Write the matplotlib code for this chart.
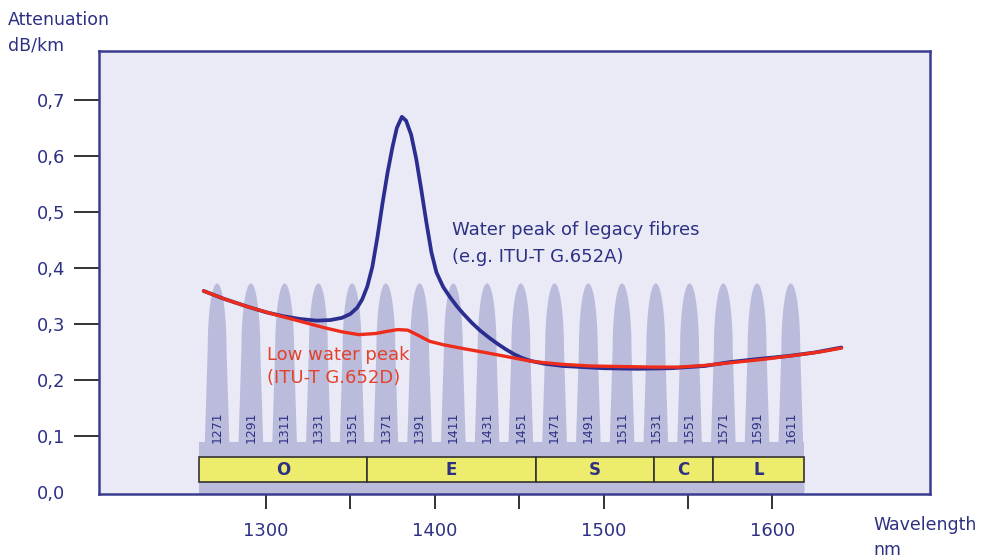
import numpy as np
import matplotlib
matplotlib.use("Agg")
import matplotlib.pyplot as plt
from matplotlib.patches import Polygon, Rectangle

# ---------------- data ----------------
channels = [1271, 1291, 1311, 1331, 1351, 1371, 1391, 1411, 1431,
            1451, 1471, 1491, 1511, 1531, 1551, 1571, 1591, 1611]
channel_peak = 0.373

bands = ["O", "E", "S", "C", "L"]
band_start = [1260, 1360, 1460, 1530, 1565]
band_end = [1360, 1460, 1530, 1565, 1619]

legacy_nm = [1263, 1275, 1290, 1300, 1310, 1320, 1330, 1338, 1345, 1350,
             1354, 1357, 1360, 1363, 1366, 1369, 1372, 1375, 1377.5, 1380.5,
             1383, 1386, 1389, 1392, 1395, 1398, 1401, 1405, 1409, 1413,
             1417, 1422, 1427, 1432, 1437, 1442, 1447, 1452, 1457, 1465,
             1476, 1500, 1520, 1540, 1560, 1575, 1590, 1610, 1625, 1641]
legacy_att = [0.359, 0.345, 0.330, 0.321, 0.314, 0.309, 0.306, 0.307, 0.311, 0.318,
              0.329, 0.344, 0.367, 0.402, 0.455, 0.515, 0.570, 0.617, 0.650, 0.670,
              0.663, 0.638, 0.595, 0.540, 0.482, 0.428, 0.392, 0.366, 0.348, 0.332,
              0.318, 0.302, 0.288, 0.276, 0.265, 0.255, 0.246, 0.239, 0.234, 0.229,
              0.225, 0.221, 0.220, 0.221, 0.225, 0.232, 0.237, 0.243, 0.249, 0.258]

lowwp_nm = [1263, 1275, 1290, 1305, 1320, 1335, 1345, 1355, 1365, 1372,
            1378, 1384, 1390, 1397, 1405, 1417, 1430, 1444, 1458, 1475,
            1492, 1510, 1530, 1545, 1560, 1576, 1595, 1616, 1630, 1641]
lowwp_att = [0.359, 0.345, 0.330, 0.317, 0.305, 0.293, 0.286, 0.281, 0.283, 0.287,
             0.290, 0.289, 0.280, 0.269, 0.263, 0.256, 0.249, 0.241, 0.233, 0.228,
             0.225, 0.224, 0.223, 0.223, 0.226, 0.231, 0.237, 0.245, 0.251, 0.257]

ytick_values = [0.0, 0.1, 0.2, 0.3, 0.4, 0.5, 0.6, 0.7]
ytick_labels = ["0,0", "0,1", "0,2", "0,3", "0,4", "0,5", "0,6", "0,7"]
xtick_values = [1300, 1350, 1400, 1450, 1500, 1550, 1600]
xtick_labels = ["1300", "", "1400", "", "1500", "", "1600"]

# ---------------- style ----------------
NAVY = "#2e3183"
BLUE = "#2b2e8f"
RED = "#ee2c1c"
RED_TXT = "#e4412c"
HUMP = "#bbbcdc"
BG = "#e9eaf5"
YELLOW = "#eeec6c"

fig = plt.figure(figsize=(9.88, 5.58), dpi=100)
ax = fig.add_axes([0.1002, 0.1147, 0.8411, 0.7939])
ax.set_facecolor(BG)
ax.set_xlim(1201, 1693.5)
ax.set_ylim(-0.0036, 0.7875)


def hump_outline(c, h, wb=8.2, wt=5.6, cap=0.12, n=40):
    y0 = h - cap
    ys = np.linspace(0, y0, n)
    ws = wb + (wt - wb) * ys / y0
    t = np.linspace(0, 1, n)
    yc = y0 + cap * t
    wc = wt * np.sqrt(np.clip(1 - t ** 2, 0, 1))
    yy = np.concatenate([ys, yc])
    ww = np.concatenate([ws, wc])
    right = np.column_stack([c + ww, yy])
    left = np.column_stack([c - ww[::-1], yy[::-1]])
    return np.vstack([right, left])


# base strip behind channels
ax.add_patch(Rectangle((band_start[0], ax.get_ylim()[0]), band_end[-1] - band_start[0],
                       0.09 - ax.get_ylim()[0], facecolor=HUMP, edgecolor="none", zorder=1))
for c in channels:
    ax.add_patch(Polygon(hump_outline(c, channel_peak), closed=True,
                         facecolor=HUMP, edgecolor="none", zorder=1))
    ax.text(c, 0.116, str(c), rotation=90, ha="center", va="center",
            fontsize=9, color=NAVY, zorder=3)

for name, s, e in zip(bands, band_start, band_end):
    ax.add_patch(Rectangle((s, 0.018), e - s, 0.0445, facecolor=YELLOW,
                           edgecolor="#333333", lw=1.2, zorder=3))
    ax.text((s + e) / 2, 0.040, name, ha="center", va="center", fontsize=12,
            fontweight="bold", color=NAVY, zorder=4)

ax.plot(legacy_nm, legacy_att, color=BLUE, lw=2.7, solid_capstyle="round",
        solid_joinstyle="round", zorder=5)
ax.plot(lowwp_nm, lowwp_att, color=RED, lw=2.4, solid_capstyle="round",
        solid_joinstyle="round", zorder=6)

ax.text(1410.3, 0.468, "Water peak of legacy fibres", fontsize=13, color=NAVY,
        ha="left", va="center", zorder=7)
ax.text(1410.3, 0.420, "(e.g. ITU-T G.652A)", fontsize=13, color=NAVY,
        ha="left", va="center", zorder=7)
ax.text(1300.6, 0.245, "Low water peak", fontsize=13, color=RED_TXT,
        ha="left", va="center", zorder=7)
ax.text(1300.6, 0.204, "(ITU-T G.652D)", fontsize=13, color=RED_TXT,
        ha="left", va="center", zorder=7)

# axes styling
for sp in ax.spines.values():
    sp.set_color("#3a3c8f")
    sp.set_linewidth(1.8)
ax.set_yticks(ytick_values)
ax.set_yticklabels(ytick_labels)
ax.set_xticks(xtick_values)
ax.set_xticklabels(xtick_labels)
ax.tick_params(axis="y", direction="out", length=18, width=1.3, color="#222222",
               pad=6.5, labelsize=13, labelcolor=NAVY)
ax.tick_params(axis="x", direction="out", length=11, width=1.3, color="#222222",
               pad=9.5, labelsize=13, labelcolor=NAVY)
ax.yaxis.get_major_ticks()[0].tick1line.set_visible(False)

fig.text(8 / 988, 1 - 20 / 558, "Attenuation", fontsize=12.5, color=NAVY,
         ha="left", va="center")
fig.text(8 / 988, 1 - 45 / 558, "dB/km", fontsize=12.5, color=NAVY,
         ha="left", va="center")
fig.text(873 / 988, 1 - 525 / 558, "Wavelength", fontsize=12.5, color=NAVY,
         ha="left", va="center")
fig.text(873 / 988, 1 - 550 / 558, "nm", fontsize=12.5, color=NAVY,
         ha="left", va="center")

fig.savefig("out.png", dpi=100)
